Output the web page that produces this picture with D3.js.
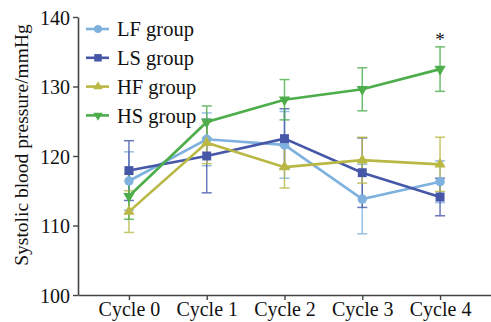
<!DOCTYPE html>
<html>
<head>
<meta charset="utf-8">
<script src="https://cdn.jsdelivr.net/npm/d3@7"></script>
<style>
  body { margin: 0; background: #fff; }
  svg text { font-family: "Liberation Serif", "Times New Roman", serif; fill: #111; }
</style>
</head>
<body>
<svg id="grafico" width="491" height="322"></svg>
<script>
const ciclos = ["Cycle 0", "Cycle 1", "Cycle 2", "Cycle 3", "Cycle 4"];
const y_ticks = [100, 110, 120, 130, 140];

const lf_media = [116.4, 122.4, 121.6, 113.8, 116.3];
const lf_erro  = [4.2, 3.8, 4.8, 5.0, 3.0];
const ls_media = [117.9, 120.0, 122.5, 117.6, 114.1];
const ls_erro  = [4.3, 5.3, 4.3, 5.0, 2.7];
const hf_media = [112.0, 121.9, 118.4, 119.4, 118.8];
const hf_erro  = [3.0, 3.0, 3.0, 3.3, 3.9];
const hs_media = [114.2, 124.9, 128.1, 129.6, 132.5];
const hs_erro  = [3.3, 2.3, 2.9, 3.1, 3.2];

const grupos = [
  { nome: "LF group", media: lf_media, erro: lf_erro, cor: "#7fb1de", marca: d3.symbolCircle, tam: 70 },
  { nome: "LS group", media: ls_media, erro: ls_erro, cor: "#4657a8", marca: d3.symbolSquare, tam: 80 },
  { nome: "HF group", media: hf_media, erro: hf_erro, cor: "#b9b845", marca: d3.symbolTriangle, tam: 55, rot: 0 },
  { nome: "HS group", media: hs_media, erro: hs_erro, cor: "#4cad4a", marca: d3.symbolTriangle, tam: 55, rot: 180 }
];

const svg = d3.select("#grafico");
const esq = 78, dir = 491, topo = 17, base = 295;

const x = d3.scalePoint().domain(ciclos).range([esq, dir]).padding(0.655);
const y = d3.scaleLinear().domain([100, 140]).range([base, topo]);

// eixos
const eixo_x = svg.append("g")
  .attr("transform", `translate(0,${base})`)
  .call(d3.axisBottom(x).tickSize(5).tickSizeOuter(0));
const eixo_y = svg.append("g")
  .attr("transform", `translate(${esq},0)`)
  .call(d3.axisLeft(y).tickValues(y_ticks).tickSize(5).tickSizeOuter(0));

[eixo_x, eixo_y].forEach(eixo => {
  eixo.select(".domain").attr("stroke", "#444").attr("stroke-width", 1.6);
  eixo.selectAll(".tick line").attr("stroke", "#444").attr("stroke-width", 1.4);
  eixo.selectAll(".tick text").attr("font-size", 20).attr("font-family", "Liberation Serif").attr("fill", "#111");
});
eixo_x.selectAll(".tick text").attr("y", 7).attr("dy", "0.71em");
eixo_y.selectAll(".tick text").attr("x", -8).attr("dy", "0.35em");

svg.append("text")
  .attr("transform", `translate(28,145) rotate(-90)`)
  .attr("text-anchor", "middle")
  .attr("font-size", 19.5)
  .text("Systolic blood pressure/mmHg");

const linha = d3.line().x((d, i) => x(ciclos[i])).y(d => y(d));

// barras de erro
grupos.forEach(g => {
  const barras = svg.append("g")
    .attr("stroke", g.cor).attr("stroke-width", 1.5).attr("opacity", 0.8);
  g.media.forEach((m, i) => {
    const cx = x(ciclos[i]);
    const y1 = y(m + g.erro[i]), y2 = y(m - g.erro[i]);
    barras.append("line").attr("x1", cx).attr("x2", cx).attr("y1", y1).attr("y2", y2);
    barras.append("line").attr("x1", cx - 5).attr("x2", cx + 5).attr("y1", y1).attr("y2", y1);
    barras.append("line").attr("x1", cx - 5).attr("x2", cx + 5).attr("y1", y2).attr("y2", y2);
  });
});

// linhas e marcadores
grupos.forEach(g => {
  svg.append("path")
    .datum(g.media)
    .attr("d", linha)
    .attr("fill", "none")
    .attr("stroke", g.cor)
    .attr("stroke-width", 2.6);
  svg.selectAll(null)
    .data(g.media)
    .enter()
    .append("path")
    .attr("d", d3.symbol().type(g.marca).size(g.tam))
    .attr("transform", (d, i) => `translate(${x(ciclos[i])},${y(d)}) rotate(${g.rot || 0})`)
    .attr("fill", g.cor);
});

// asterisco
svg.append("text")
  .attr("x", x("Cycle 4"))
  .attr("y", y(hs_media[4] + hs_erro[4]) - 1)
  .attr("text-anchor", "middle")
  .attr("font-size", 19)
  .text("*");

// legenda
const legenda = svg.append("g");
grupos.forEach((g, i) => {
  const ly = 29 + i * 28.8;
  legenda.append("line")
    .attr("x1", 86).attr("x2", 109).attr("y1", ly).attr("y2", ly)
    .attr("stroke", g.cor).attr("stroke-width", 2.6);
  legenda.append("path")
    .attr("d", d3.symbol().type(g.marca).size(g.tam * 0.7))
    .attr("transform", `translate(98,${ly}) rotate(${g.rot || 0})`)
    .attr("fill", g.cor);
  legenda.append("text")
    .attr("x", 117).attr("y", ly).attr("dy", "0.35em")
    .attr("font-size", 20.5)
    .text(g.nome);
});
</script>
</body>
</html>
